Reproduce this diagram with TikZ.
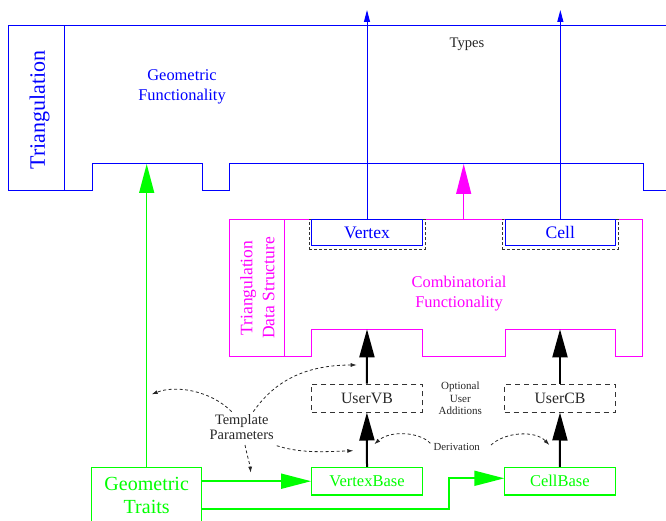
\documentclass[tikz,border=0pt]{standalone}
\usepackage{fontspec}
\setmainfont{Liberation Serif}
\usetikzlibrary{arrows.meta}
\definecolor{tblue}{RGB}{0,0,255}
\definecolor{tgreen}{RGB}{0,255,0}
\definecolor{tmag}{RGB}{255,0,255}
\newcommand{\fsz}[2]{\fontsize{#1}{#2}\selectfont}
\begin{document}
\begin{tikzpicture}[x=1pt,y=-1pt,
  bline/.style={draw=tblue, line width=1pt},
  mline/.style={draw=tmag, line width=1pt},
  bbox/.style={draw=tblue, line width=1pt, rectangle, inner sep=0pt, text=tblue, font=\fsz{17.6}{20}},
  gbox/.style={draw=tgreen, line width=1.2pt, rectangle, inner sep=0pt, text=tgreen, font=\fsz{16.5}{20}},
  ubox/.style={draw=black!80, line width=1pt, dash pattern=on 5pt off 4pt, rectangle, inner sep=0pt, text=black!85, font=\fsz{15.8}{19}},
  vdbox/.style={draw=black!80, line width=0.9pt, dash pattern=on 3pt off 2pt, rectangle, inner sep=0pt},
  blarrow/.style={draw=tblue, line width=1pt, -{Triangle[length=12pt,width=6pt]}},
  marrow/.style={draw=tmag, line width=1.2pt, -{Triangle[length=30pt,width=15pt]}},
  garrow/.style={draw=tgreen, line width=1.8pt, -{Triangle[length=30pt,width=15pt]}},
  gvarrow/.style={draw=tgreen, line width=1.3pt, -{Triangle[length=29pt,width=15pt]}},
  karrow/.style={draw=black, line width=2pt, -{Triangle[length=28pt,width=15pt]}},
  darrow/.style={draw=black!85, line width=0.8pt, dash pattern=on 3pt off 2.5pt, -{Latex[length=6pt,width=4pt]}},
  lbl/.style={inner sep=0pt, align=center}
]
\useasboundingbox (0,0) rectangle (666,521);

% ---- Triangulation outline
\draw[bline] (668,26) -- (8,26) -- (8,191) -- (92,191) -- (92,164) -- (202,164) -- (202,191)
  -- (229,191) -- (229,164) -- (643,164) -- (643,191) -- (668,191);
\draw[bline] (64,26) -- (64,191);
\node[lbl, rotate=90, text=tblue, font=\fsz{22}{26}] (trilabel) at (39.5,110) {Triangulation};
\node[lbl, text=tblue, font=\fsz{16.4}{19.5}] (geo) at (182,86.7) {Geometric\\Functionality};
\node[lbl, text=black!85, font=\fsz{14.6}{17}] (types) at (467,44.4) {Types};

% ---- Triangulation data structure outline
\draw[mline] (229.3,219.3) -- (642.7,219.3) -- (642.7,356.7) -- (615.7,356.7) -- (615.7,329.3)
  -- (505,329.3) -- (505,356.7) -- (422.3,356.7) -- (422.3,329.3) -- (311.7,329.3)
  -- (311.7,356.7) -- (229.3,356.7) -- cycle;
\draw[mline] (284.3,219.3) -- (284.3,356.7);
\node[lbl, rotate=90, text=tmag, font=\fsz{17.5}{22}] (tdslabel) at (257.5,288) {Triangulation\\Data Structure};
\node[lbl, text=tmag, font=\fsz{16.4}{20}] (comb) at (459,293.5) {Combinatorial\\Functionality};

% ---- Vertex / Cell types
\node[vdbox, minimum width=116, minimum height=30] (vtxd) at (367,234.3) {};
\node[vdbox, minimum width=116, minimum height=30] (celld) at (560.3,234.3) {};
\node[bbox, fill=white, minimum width=110.6, minimum height=26.7] (vtx) at (367,232.65) {Vertex};
\node[bbox, fill=white, minimum width=110.7, minimum height=26.7] (cell) at (560.35,232.65) {Cell};

% ---- lower boxes
\node[ubox, minimum width=110.3, minimum height=28] (uvb) at (366.9,398) {UserVB};
\node[ubox, minimum width=110.6, minimum height=28] (ucb) at (560,398) {UserCB};
\node[gbox, minimum width=110.6, minimum height=27.7] (vb) at (367,481.2) {VertexBase};
\node[gbox, minimum width=111, minimum height=27.7] (cb) at (559.8,481.2) {CellBase};
\node[gbox, minimum width=110, minimum height=55.7, align=center, font=\fsz{20}{23.3}] (gt) at (146.7,495.15) {Geometric\\Traits};

\node[lbl, text=black!85, font=\fsz{14.4}{14.5}] (tp) at (241.7,427.3) {Template\\Parameters};
\node[lbl, text=black!85, font=\fsz{11}{12.7}] (opt) at (460.3,398.5) {Optional\\User\\Additions};
\node[lbl, text=black!85, font=\fsz{10.8}{13}] (dv) at (456.7,446.6) {Derivation};

% ---- coordinates
\coordinate (toptip) at (0,10);
\coordinate (geoin) at (146.7,164);
\coordinate (tdstop) at (463.7,219.3);
\coordinate (tdsin) at (463.7,164);
\coordinate (tdsv) at (367,329.3);
\coordinate (tdsc) at (560,329.3);
\coordinate (g2) at (201.7,509);
\coordinate (gbend) at (449.3,509);
\coordinate (cbin) at (504.3,478.3);

% ---- connectors
\draw[blarrow] (vtx.north) -- (vtx.north |- toptip);
\draw[blarrow] (cell.north) -- (cell.north |- toptip);
\draw[marrow] (tdstop) -- (tdsin);
\draw[gvarrow] (gt.north) -- (geoin);
\draw[garrow] (gt.east |- vb.west) -- (vb.west);
\draw[garrow] (gt.east |- g2) -- (gbend) |- (cbin);
\draw[karrow] (vb.north) -- (uvb.south);
\draw[karrow] (uvb.north) -- (tdsv);
\draw[karrow] (cb.north) -- (ucb.south);
\draw[karrow] (ucb.north) -- (tdsc);

% ---- dashed annotation arrows
\coordinate (t1s) at (231.7,411.7);
\coordinate (t1e) at (151.7,394.3);
\coordinate (t2s) at (253.3,411.7);
\coordinate (t2e) at (356.7,365);
\coordinate (t3s) at (276.7,445.7);
\coordinate (t3e) at (353.3,450.7);
\coordinate (t4s) at (245,445);
\coordinate (t4e) at (250.7,472.7);
\coordinate (d1s) at (430.3,443.3);
\coordinate (d1e) at (374.3,444.3);
\coordinate (d2s) at (491,445);
\coordinate (d2e) at (549.3,445);
\draw[darrow] (t1s) .. controls (210,390) and (175,385) .. (t1e);
\draw[darrow] (t2s) .. controls (272,385) and (300,365) .. (t2e);
\draw[darrow] (t3s) .. controls (300,453) and (320,452) .. (t3e);
\draw[darrow] (t4s) .. controls (247,455) and (250,465) .. (t4e);
\draw[darrow] (d1s) .. controls (420,432) and (390,430) .. (d1e);
\draw[darrow] (d2s) .. controls (505,432) and (535,430) .. (d2e);
\end{tikzpicture}
\end{document}
